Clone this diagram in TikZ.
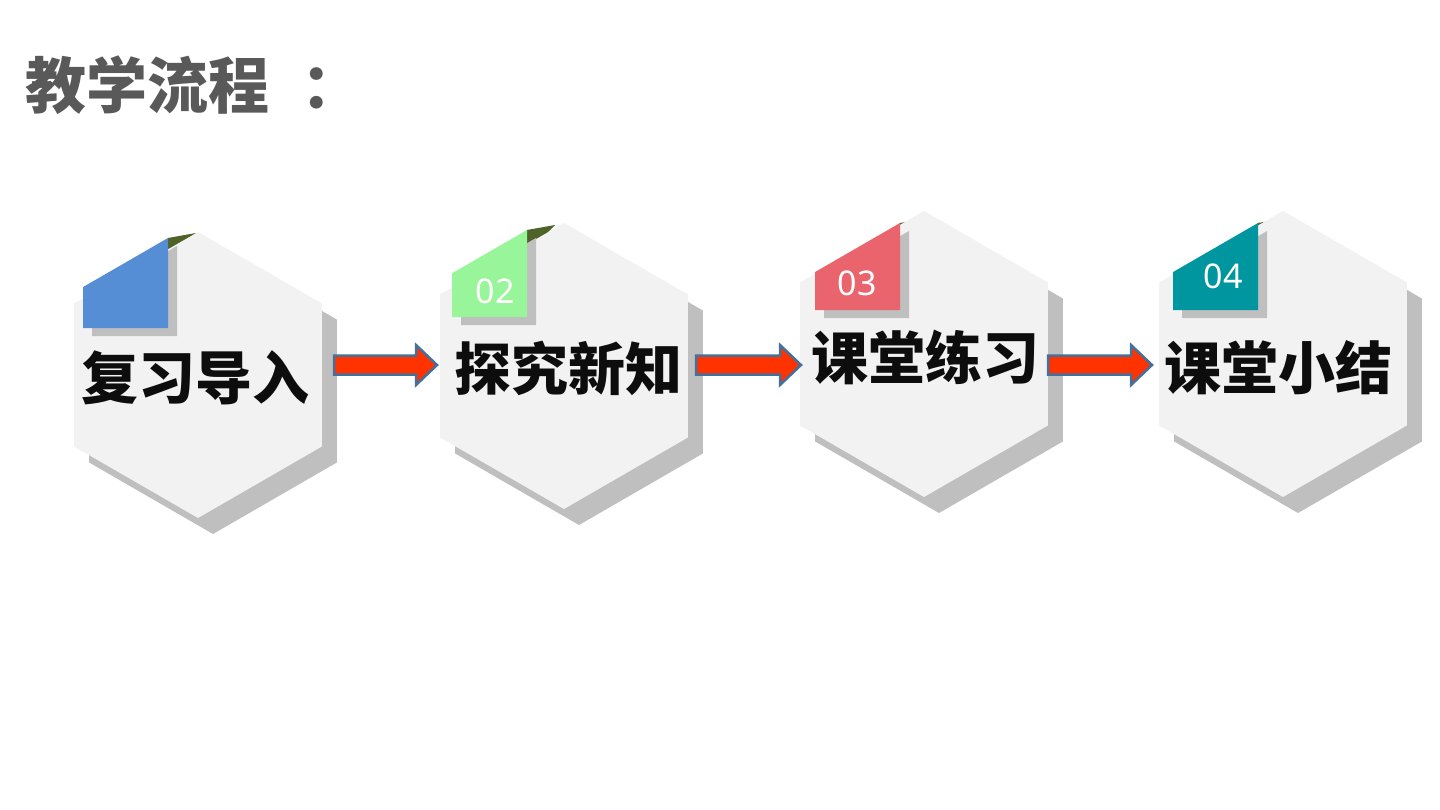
\documentclass[tikz,border=0pt]{standalone}
\usepackage{fontspec}
\newfontfamily\cjk{Noto Sans CJK SC}
\newfontfamily\numfont{Noto Sans}
\usetikzlibrary{calc}
\definecolor{hexfill}{HTML}{F2F2F2}
\definecolor{shadowgrey}{HTML}{BFBFBF}
\definecolor{foldolive}{HTML}{4F6228}
\definecolor{tabblue}{HTML}{558ED5}
\definecolor{tabgreen}{HTML}{99F599}
\definecolor{tabred}{HTML}{E9646C}
\definecolor{tabteal}{HTML}{00969F}
\definecolor{arrowred}{HTML}{FF3300}
\definecolor{arrowblue}{HTML}{41719C}
\definecolor{titlegrey}{HTML}{595959}
\newcommand\hexshape[2]{(#1) +(90:#2) -- +(150:#2) -- +(210:#2) -- +(270:#2) -- +(330:#2) -- +(30:#2) -- cycle}
% tab: right x, top y, bottom y, width
\newcommand\tabshape[4]{(#1,#2) -- (#1,#3) -- ({#1-#4},#3) -- ({#1-#4},{#2+0.5774*#4}) -- cycle}
\newcommand\foldshape[2]{(#1,#2) -- ({#1+28},{#2-5}) -- (#1,{#2+24}) -- cycle}
\newcommand\blockarrow[2]{($(#1)+(0,-9.5)$) -- ($(#2)+(-21,-9.5)$) -- ($(#2)+(-21,-20)$) -- (#2) -- ($(#2)+(-21,20)$) -- ($(#2)+(-21,9.5)$) -- ($(#1)+(0,9.5)$) -- cycle}
\tikzset{
  hexback/.style={fill=shadowgrey},
  hexfront/.style={fill=hexfill},
  tabback/.style={fill=shadowgrey},
  fold/.style={fill=foldolive},
  label/.style={font=\cjk\bfseries\fontsize{57}{60}\selectfont, text=black!95, inner sep=0pt},
  numlabel/.style={font=\numfont\fontsize{34}{36}\selectfont, text=white, inner sep=0pt},
  flowarrow/.style={fill=arrowred, draw=arrowblue, line width=2.5pt, line join=miter},
  titlestyle/.style={font=\cjk\bfseries\fontsize{61}{64}\selectfont, text=titlegrey, inner sep=0pt}
}
\begin{document}
\begin{tikzpicture}[x=1pt,y=-1pt]
\useasboundingbox (0,0) rectangle (1440,810);
\fill[white] (0,0) rectangle (1440,810);

\node[titlestyle, anchor=west] (title) at (25,85) {教学流程\kern32pt：};

% centres
\coordinate (c1) at (198,375);
\coordinate (c2) at (564,366);
\coordinate (c3) at (924,354);
\coordinate (c4) at (1283,354);
% shadow centres
\coordinate (s1) at ($(c1)+(15,16)$);
\coordinate (s2) at ($(c2)+(15,16)$);
\coordinate (s3) at ($(c3)+(15,16)$);
\coordinate (s4) at ($(c4)+(15,16)$);

% hexagon shadows
\fill[hexback] \hexshape{s1}{143};
\fill[hexback] \hexshape{s2}{143};
\fill[hexback] \hexshape{s3}{143};
\fill[hexback] \hexshape{s4}{143};

% folds (behind front hexagons)
\fill[fold] \foldshape{168}{238};
\fill[fold] \foldshape{527}{230};
\fill[fold] \foldshape{900}{223};
\fill[fold] \foldshape{1258}{223};

% front hexagons
\fill[hexfront] \hexshape{c1}{143};
\fill[hexfront] \hexshape{c2}{143};
\fill[hexfront] \hexshape{c3}{143};
\fill[hexfront] \hexshape{c4}{143};

% tab shadows
\begin{scope}[shift={(9,8)}]
  \fill[tabback] \tabshape{168}{238}{328}{85};
  \fill[tabback] \tabshape{527}{230}{317}{75};
  \fill[tabback] \tabshape{900}{223}{310}{85};
  \fill[tabback] \tabshape{1258}{223}{310}{85};
\end{scope}

% tabs
\fill[tabblue]  \tabshape{168}{238}{328}{85};
\fill[tabgreen] \tabshape{527}{230}{317}{75};
\fill[tabred]   \tabshape{900}{223}{310}{85};
\fill[tabteal]  \tabshape{1258}{223}{310}{85};

\node[numlabel] (n2) at (495,291) {02};
\node[numlabel] (n3) at (857,283) {03};
\node[numlabel] (n4) at (1223,276) {04};

% labels
\node[label] (l1) at (195,378) {复习导入};
\node[label] (l2) at (568,368) {探究新知};
\node[label] (l3) at (925,357) {课堂练习};
\node[label] (l4) at (1278,368) {课堂小结};

% arrows
\coordinate (a1s) at (334,365);
\coordinate (a1t) at (437,365);
\coordinate (a2s) at (696,365);
\coordinate (a2t) at (801,365);
\coordinate (a3s) at (1048,365);
\coordinate (a3t) at (1152,365);
\draw[flowarrow] \blockarrow{a1s}{a1t};
\draw[flowarrow] \blockarrow{a2s}{a2t};
\draw[flowarrow] \blockarrow{a3s}{a3t};
\end{tikzpicture}
\end{document}
